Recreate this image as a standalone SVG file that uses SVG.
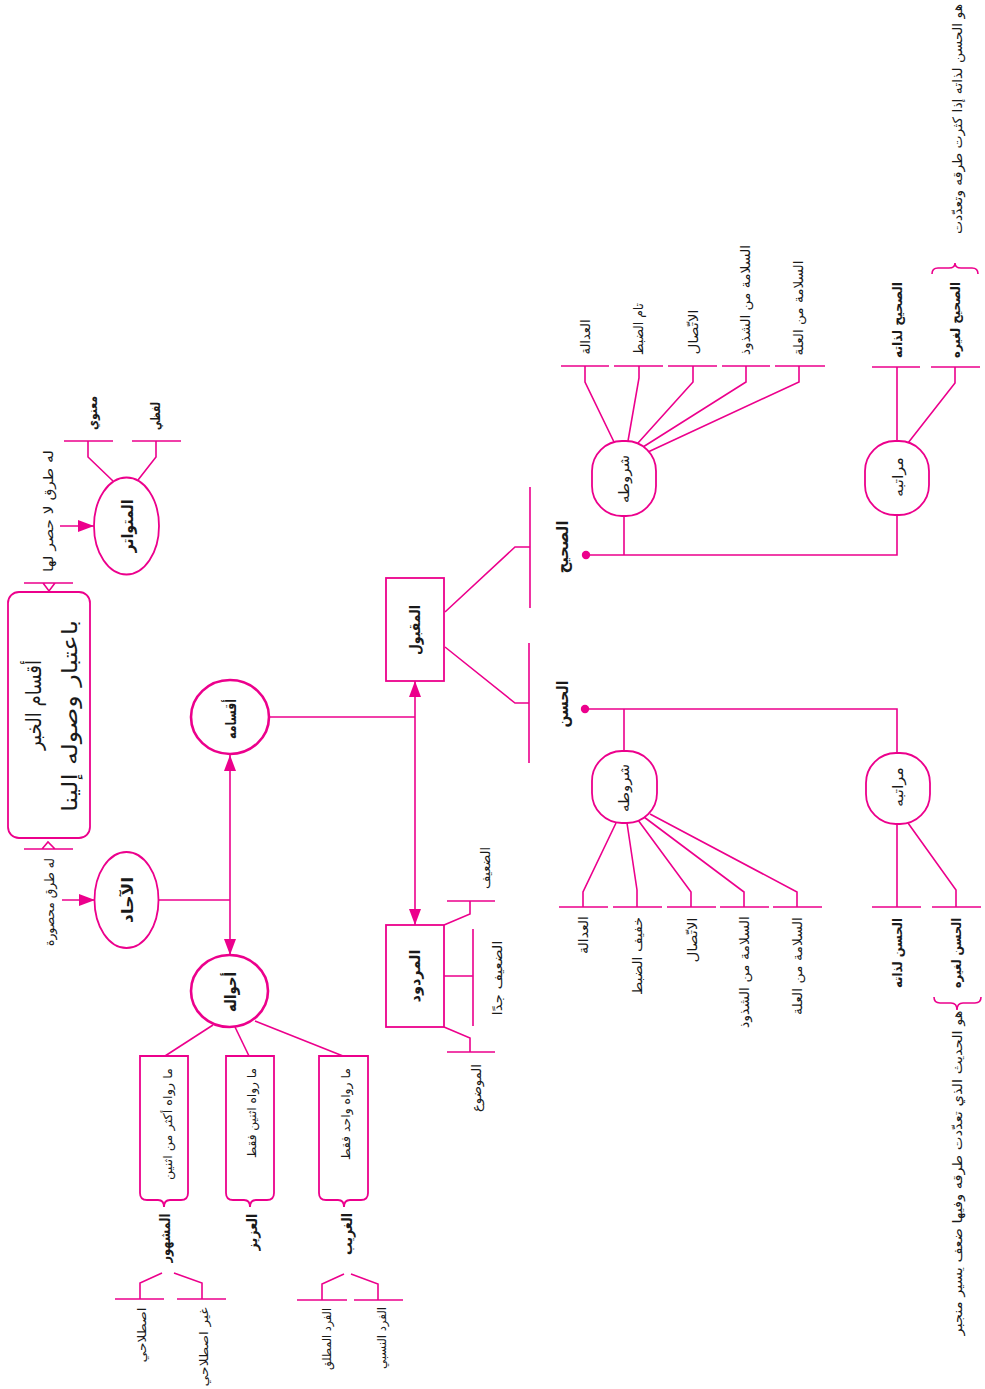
<svg xmlns="http://www.w3.org/2000/svg" width="985" height="1389" viewBox="0 0 985 1389">
<style>
.ln{fill:none;stroke:#EC008C;stroke-width:1.6;stroke-linecap:butt;stroke-linejoin:miter}
.nd{fill:#fff;stroke:#EC008C;stroke-width:1.8}
.thick{stroke-width:2.6}
.dot{fill:#EC008C}
text{font-family:"DejaVu Sans","Noto Sans",sans-serif;fill:#1a1a1a;text-anchor:middle;dominant-baseline:central}
.b{font-weight:bold}
</style>
<defs>
<marker id="ah" viewBox="0 0 16 12" refX="16" refY="6" markerWidth="16" markerHeight="12" markerUnits="userSpaceOnUse" orient="auto-start-reverse">
<path d="M0,0 L16,6 L0,12 Z" fill="#EC008C"/>
</marker>
</defs>
<rect width="985" height="1389" fill="#fff"/>

<g id="connectors">
<path class="ln" d="M24,583 H73 M43,583 L49,591 L55,583"/>
<path class="ln" d="M24,849 H73 M42,849 L48,842 L55,849"/>
<path class="ln" d="M113,481 L88,457 V441 M64,441 H113"/>
<path class="ln" d="M138,480 L156,457 V441 M132,441 H181"/>
<path class="ln" d="M60,526 H94" marker-end="url(#ah)"/>
<path class="ln" d="M62,900 H95" marker-end="url(#ah)"/>
<path class="ln" d="M158,900 H230"/>
<path class="ln" d="M230,755 V955" marker-start="url(#ah)" marker-end="url(#ah)"/>
<path class="ln" d="M269,717 H415"/>
<path class="ln" d="M415,681 V925" marker-start="url(#ah)" marker-end="url(#ah)"/>
<path class="ln" d="M444,925 L470,914 V901 M447,901 H495"/>
<path class="ln" d="M444,976 H473 M473,929 V1026"/>
<path class="ln" d="M444,1027 L470,1038 V1052 M447,1052 H495"/>
<path class="ln" d="M445,612 L515,547 H530 M530,487 V608"/>
<path class="ln" d="M445,647 L515,703 H529 M529,643 V763"/>
<circle class="dot" cx="586" cy="555" r="4.2"/>
<circle class="dot" cx="585" cy="709" r="4.2"/>
<path class="ln" d="M586,555 H897 V515 M624,555 V516"/>
<path class="ln" d="M585,709 H897 V753 M624,709 V751"/>
<path class="ln" d="M614,442 L585,382 V366 M561,366 H609"/>
<path class="ln" d="M628,441 L639,378 V366 M614,366 H663"/>
<path class="ln" d="M638,443 L693,382 V366 M668,366 H717"/>
<path class="ln" d="M643,447 L746,382 V366 M722,366 H770"/>
<path class="ln" d="M648,452 L799,382 V366 M775,366 H825"/>
<path class="ln" d="M616,823 L583,892 V907 M559,907 H608"/>
<path class="ln" d="M627,823 L637,890 V907 M613,907 H662"/>
<path class="ln" d="M638,820 L691,892 V907 M667,907 H716"/>
<path class="ln" d="M644,817 L744,892 V907 M720,907 H769"/>
<path class="ln" d="M650,814 L797,892 V907 M773,907 H822"/>
<path class="ln" d="M897,441 V367 M872,367 H920"/>
<path class="ln" d="M908,443 L955,383 V367 M931,367 H980"/>
<path class="ln" d="M932,274 Q932,268 938,268 H949 Q955,268 955,263 Q955,268 961,268 H972 Q978,268 978,274"/>
<path class="ln" d="M897,824 V907 M872,907 H921"/>
<path class="ln" d="M908,823 L956,890 V907 M932,907 H981"/>
<path class="ln" d="M934,997 Q934,1003 940,1003 H951 Q957,1003 957,1010 Q957,1003 963,1003 H975 Q981,1003 981,997"/>
<path class="ln" d="M213,1025 L165,1056"/>
<path class="ln" d="M235,1027 L249,1056"/>
<path class="ln" d="M255,1021 L343,1056"/>
<path class="ln" d="M162,1273 L140,1283 V1299 M115,1299 H164"/>
<path class="ln" d="M174,1273 L202,1283 V1299 M177,1299 H226"/>
<path class="ln" d="M344,1274 L322,1284 V1300 M297,1300 H347"/>
<path class="ln" d="M351,1274 L378,1284 V1300 M354,1300 H403"/>
</g>

<g id="title">
<rect class="nd" x="8" y="592" width="82" height="246" rx="11"/>
<text transform="translate(34,705) rotate(-90)" font-size="21" textLength="90" lengthAdjust="spacingAndGlyphs">أقسام الخبر</text>
<text transform="translate(70,716) rotate(-90)" font-size="21" textLength="192" lengthAdjust="spacingAndGlyphs">باعتبار وصوله إلينا</text>
</g>

<g id="mutawatir">
<ellipse class="nd" cx="126.5" cy="526" rx="32.5" ry="48.5"/>
<text class="b" transform="translate(127,526) rotate(-90)" font-size="16" textLength="53" lengthAdjust="spacingAndGlyphs">المتواتر</text>
<text transform="translate(48,511) rotate(-90)" font-size="13" textLength="122" lengthAdjust="spacingAndGlyphs">له طرق لا حصر لها</text>
</g>
<g id="maanawi"><text class="b" transform="translate(92,413) rotate(-90)" font-size="13" textLength="34" lengthAdjust="spacingAndGlyphs">معنوي</text></g>
<g id="lafzi"><text class="b" transform="translate(155,416) rotate(-90)" font-size="13" textLength="28" lengthAdjust="spacingAndGlyphs">لفظي</text></g>

<g id="ahad">
<ellipse class="nd" cx="126.5" cy="900" rx="32" ry="48"/>
<text class="b" transform="translate(127,900) rotate(-90)" font-size="16" textLength="46" lengthAdjust="spacingAndGlyphs">الآحاد</text>
<text transform="translate(49,902) rotate(-90)" font-size="13" textLength="88" lengthAdjust="spacingAndGlyphs">له طرق محصورة</text>
</g>

<g id="aqsamuh">
<ellipse class="nd thick" cx="230" cy="717" rx="39" ry="37"/>
<text class="b" transform="translate(231,719) rotate(-90)" font-size="15" textLength="40" lengthAdjust="spacingAndGlyphs">أقسامه</text>
</g>

<g id="ahwaluh">
<ellipse class="nd thick" cx="229.5" cy="991" rx="38.5" ry="36"/>
<text class="b" transform="translate(230,992) rotate(-90)" font-size="16" textLength="40" lengthAdjust="spacingAndGlyphs">أحواله</text>
</g>

<g id="mashhur">
<path class="nd" d="M140,1056 H188 V1193 Q188,1200 181,1200 H170 Q164,1200 164,1207 Q164,1200 158,1200 H147 Q140,1200 140,1193 Z"/>
<text transform="translate(168,1124) rotate(-90)" font-size="12" textLength="112" lengthAdjust="spacingAndGlyphs">ما رواه أكثر من اثنين</text>
<text class="b" transform="translate(165,1238) rotate(-90)" font-size="14" textLength="49" lengthAdjust="spacingAndGlyphs">المشهور</text>
</g>
<g id="istilahi"><text transform="translate(142,1335) rotate(-90)" font-size="12" textLength="55" lengthAdjust="spacingAndGlyphs">اصطلاحي</text></g>
<g id="ghayr-istilahi"><text transform="translate(204,1347) rotate(-90)" font-size="12" textLength="79" lengthAdjust="spacingAndGlyphs">غير اصطلاحي</text></g>

<g id="aziz">
<path class="nd" d="M226,1056 H274 V1193 Q274,1200 267,1200 H256 Q250,1200 250,1207 Q250,1200 244,1200 H233 Q226,1200 226,1193 Z"/>
<text transform="translate(252,1113) rotate(-90)" font-size="12" textLength="90" lengthAdjust="spacingAndGlyphs">ما رواه اثنين فقط</text>
<text class="b" transform="translate(252,1232) rotate(-90)" font-size="14" textLength="37" lengthAdjust="spacingAndGlyphs">العزيز</text>
</g>

<g id="gharib">
<path class="nd" d="M319,1056 H368 V1193 Q368,1200 361,1200 H350 Q344,1200 344,1207 Q344,1200 338,1200 H326 Q319,1200 319,1193 Z"/>
<text transform="translate(346,1114) rotate(-90)" font-size="12" textLength="92" lengthAdjust="spacingAndGlyphs">ما رواه واحد فقط</text>
<text class="b" transform="translate(347,1234) rotate(-90)" font-size="14" textLength="42" lengthAdjust="spacingAndGlyphs">الغريب</text>
</g>
<g id="fard-mutlaq"><text transform="translate(327,1339) rotate(-90)" font-size="12" textLength="62" lengthAdjust="spacingAndGlyphs">الفرد المطلق</text></g>
<g id="fard-nisbi"><text transform="translate(382,1338) rotate(-90)" font-size="12" textLength="62" lengthAdjust="spacingAndGlyphs">الفرد النسبي</text></g>

<g id="maqbul">
<rect class="nd" x="386" y="578" width="58" height="103"/>
<text class="b" transform="translate(415,630) rotate(-90)" font-size="15" textLength="50" lengthAdjust="spacingAndGlyphs">المقبول</text>
</g>

<g id="mardud">
<rect class="nd" x="386" y="925" width="58" height="102"/>
<text class="b" transform="translate(415,976) rotate(-90)" font-size="15" textLength="53" lengthAdjust="spacingAndGlyphs">المردود</text>
</g>
<g id="daif"><text transform="translate(485,868) rotate(-90)" font-size="13" textLength="42" lengthAdjust="spacingAndGlyphs">الضعيف</text></g>
<g id="daif-jiddan"><text transform="translate(497,978) rotate(-90)" font-size="13" textLength="75" lengthAdjust="spacingAndGlyphs">الضعيف جدًا</text></g>
<g id="mawdu"><text transform="translate(476,1088) rotate(-90)" font-size="13" textLength="48" lengthAdjust="spacingAndGlyphs">الموضوع</text></g>

<g id="sahih"><text class="b" transform="translate(562,547) rotate(-90)" font-size="16" textLength="53" lengthAdjust="spacingAndGlyphs">الصحيح</text></g>
<g id="hasan"><text class="b" transform="translate(562,704) rotate(-90)" font-size="16" textLength="47" lengthAdjust="spacingAndGlyphs">الحسن</text></g>

<g id="shurut-sahih">
<rect class="nd" x="592" y="441" width="64" height="75" rx="30"/>
<text transform="translate(624,479) rotate(-90)" font-size="14" textLength="48" lengthAdjust="spacingAndGlyphs">شروطه</text>
</g>
<g id="s-adala"><text transform="translate(585,337) rotate(-90)" font-size="13" textLength="35" lengthAdjust="spacingAndGlyphs">العدالة</text></g>
<g id="s-dabt"><text transform="translate(638,329) rotate(-90)" font-size="13" textLength="52" lengthAdjust="spacingAndGlyphs">تام الضبط</text></g>
<g id="s-ittisal"><text transform="translate(693,332) rotate(-90)" font-size="13" textLength="45" lengthAdjust="spacingAndGlyphs">الاتّصال</text></g>
<g id="s-shudhudh"><text transform="translate(745,300) rotate(-90)" font-size="13" textLength="110" lengthAdjust="spacingAndGlyphs">السلامة من الشذوذ</text></g>
<g id="s-illa"><text transform="translate(798,308) rotate(-90)" font-size="13" textLength="95" lengthAdjust="spacingAndGlyphs">السلامة من العلة</text></g>

<g id="shurut-hasan">
<rect class="nd" x="592" y="751" width="65" height="72" rx="30"/>
<text transform="translate(624,788) rotate(-90)" font-size="14" textLength="48" lengthAdjust="spacingAndGlyphs">شروطه</text>
</g>
<g id="h-adala"><text transform="translate(583,935) rotate(-90)" font-size="13" textLength="38" lengthAdjust="spacingAndGlyphs">العدالة</text></g>
<g id="h-dabt"><text transform="translate(637,956) rotate(-90)" font-size="13" textLength="78" lengthAdjust="spacingAndGlyphs">خفيف الضبط</text></g>
<g id="h-ittisal"><text transform="translate(692,940) rotate(-90)" font-size="13" textLength="45" lengthAdjust="spacingAndGlyphs">الاتّصال</text></g>
<g id="h-shudhudh"><text transform="translate(744,972) rotate(-90)" font-size="13" textLength="112" lengthAdjust="spacingAndGlyphs">السلامة من الشذوذ</text></g>
<g id="h-illa"><text transform="translate(797,966) rotate(-90)" font-size="13" textLength="98" lengthAdjust="spacingAndGlyphs">السلامة من العلة</text></g>

<g id="maratib-sahih">
<rect class="nd" x="865" y="441" width="64" height="74" rx="30"/>
<text transform="translate(898,477) rotate(-90)" font-size="14" textLength="40" lengthAdjust="spacingAndGlyphs">مراتبه</text>
</g>
<g id="sahih-lidhatih"><text class="b" transform="translate(897,320) rotate(-90)" font-size="13" textLength="76" lengthAdjust="spacingAndGlyphs">الصحيح لذاته</text></g>
<g id="sahih-lighayrih"><text class="b" transform="translate(955,320) rotate(-90)" font-size="13" textLength="76" lengthAdjust="spacingAndGlyphs">الصحيح لغيره</text></g>
<g id="note-sahih"><text transform="translate(957,119) rotate(-90)" font-size="13" textLength="230" lengthAdjust="spacingAndGlyphs">هو الحسن لذاته إذا كثرت طرقه وتعدّدت</text></g>

<g id="maratib-hasan">
<rect class="nd" x="866" y="753" width="64" height="71" rx="30"/>
<text transform="translate(898,787) rotate(-90)" font-size="14" textLength="40" lengthAdjust="spacingAndGlyphs">مراتبه</text>
</g>
<g id="hasan-lidhatih"><text class="b" transform="translate(897,953) rotate(-90)" font-size="13" textLength="70" lengthAdjust="spacingAndGlyphs">الحسن لذاته</text></g>
<g id="hasan-lighayrih"><text class="b" transform="translate(956,953) rotate(-90)" font-size="13" textLength="70" lengthAdjust="spacingAndGlyphs">الحسن لغيره</text></g>
<g id="note-hasan"><text transform="translate(957,1173) rotate(-90)" font-size="13" textLength="325" lengthAdjust="spacingAndGlyphs">هو الحديث الذي تعدّدت طرقه وفيها ضعف يسير منجبر</text></g>
</svg>
